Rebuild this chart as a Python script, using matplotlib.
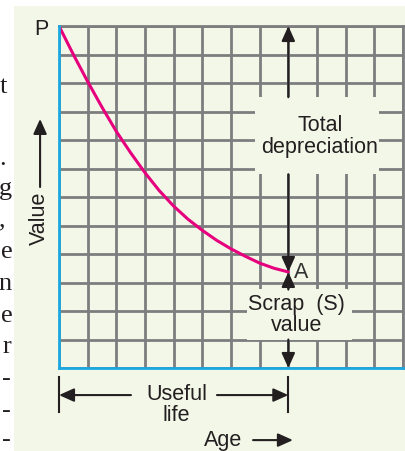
import matplotlib
matplotlib.use("Agg")
import matplotlib.pyplot as plt
from matplotlib.patches import Rectangle

plt.rcParams["font.family"] = ["Liberation Sans", "DejaVu Sans"]

# curve: value against age (grid units)
age = [0, 0.5, 1, 1.5, 2, 2.5, 3, 3.5, 4, 4.5, 5, 5.5, 6, 6.5, 7, 7.5, 8]
value = [12, 11.0, 10.05, 9.15, 8.3, 7.55, 6.85, 6.22, 5.68, 5.22, 4.83,
         4.48, 4.18, 3.92, 3.68, 3.5, 3.37]
grid_n = 12
life_end = 8
scrap = value[-1]

# cropped characters from the neighbouring page text
side_chars = ["t", ".", "g", ",", "e", "n", "e", "r", "-", "-", "-"]
side_base_px = [93, 165, 195, 226, 258, 290, 322, 353, 385, 417, 446]
side_right_px = [7, 6, 12, 6, 13, 12, 13, 11, 11, 11, 11]

BG = "#f3f7e7"
GRID = "#7d7d7f"
BLUE = "#1ba8e0"
MAG = "#e6007e"
INK = "#231f20"
W, H = 406, 452

fig = plt.figure(figsize=(W / 100, H / 100), dpi=100, facecolor="white")
fig.patches.append(Rectangle((14 / W, 0), 1, (H - 7) / H, transform=fig.transFigure,
                             facecolor=BG, edgecolor="none", zorder=-10))

for ch, yb, xr in zip(side_chars, side_base_px, side_right_px):
    fig.text(xr / W, 1 - yb / H, ch, ha="right", va="baseline",
             family="Liberation Serif", fontsize=19, color=INK)

ax = fig.add_axes([59 / W, (H - 369) / H, 344 / W, 342 / H])
ax.set_facecolor(BG)
ax.set_xlim(0, grid_n)
ax.set_ylim(0, grid_n)
ax.set_xticks(range(grid_n + 1))
ax.set_yticks(range(grid_n + 1))
ax.tick_params(length=0, labelbottom=False, labelleft=False)
ax.set_axisbelow(True)
ax.grid(True, color=GRID, lw=2.0)
for side in ["top", "right"]:
    ax.spines[side].set_color(GRID)
    ax.spines[side].set_linewidth(2.0)
for side in ["left", "bottom"]:
    ax.spines[side].set_color(BLUE)
    ax.spines[side].set_linewidth(2.0)
    ax.spines[side].set_zorder(4)

# label boxes hiding the grid
ax.add_patch(Rectangle((6.84, 6.8), 4.32, 2.7, facecolor=BG, edgecolor="none", zorder=1))
ax.add_patch(Rectangle((6.56, 1.0), 3.66, 1.77, facecolor=BG, edgecolor="none", zorder=1))

ax.plot(age, value, color=MAG, lw=2.2, zorder=3, solid_capstyle="round")

arrow = dict(arrowstyle="-|>,head_length=0.6,head_width=0.27", color=INK, lw=1.5,
             shrinkA=0, shrinkB=0, mutation_scale=15)


def arr(tip, tail):
    ax.annotate("", xy=tip, xytext=tail, arrowprops=arrow, annotation_clip=False, zorder=5)


# total depreciation
arr((life_end, grid_n), (life_end, 9.5))
arr((life_end, scrap), (life_end, 6.8))
ax.text(9.1, 8.15, "Total\ndepreciation", ha="center", va="center", fontsize=15.5,
        color=INK, linespacing=1.05, zorder=6)

# scrap value
arr((life_end, scrap), (life_end, 2.75))
arr((life_end, 0), (life_end, 1.0))
ax.text(8.3, 1.9, "Scrap  (S)\nvalue", ha="center", va="center", fontsize=15.5,
        color=INK, linespacing=1.0, zorder=6)

ax.text(8.2, scrap, "A", ha="left", va="center", fontsize=15.5, color="#333333", zorder=6)
ax.text(-0.63, 11.9, "P", ha="center", va="center", fontsize=15.5, color=INK)

# value axis label
ax.text(-0.7, 5.3, "Value", ha="center", va="center", rotation=90, fontsize=15.5, color=INK)
arr((-0.66, 8.74), (-0.66, 6.35))

# useful life
for xv in [0, life_end]:
    ax.plot([xv, xv], [-0.32, -1.54], color=INK, lw=1.5, clip_on=False)
arr((0, -0.95), (2.51, -0.95))
arr((life_end, -0.95), (5.51, -0.95))
ax.text(4.1, -1.25, "Useful\nlife", ha="center", va="center", fontsize=15.5,
        color=INK, linespacing=1.0)

# age axis label
ax.text(5.74, -2.5, "Age", ha="center", va="center", fontsize=15.5, color=INK)
arr((8.16, -2.53), (6.77, -2.53))

fig.savefig("out.png", dpi=100, facecolor="white")
